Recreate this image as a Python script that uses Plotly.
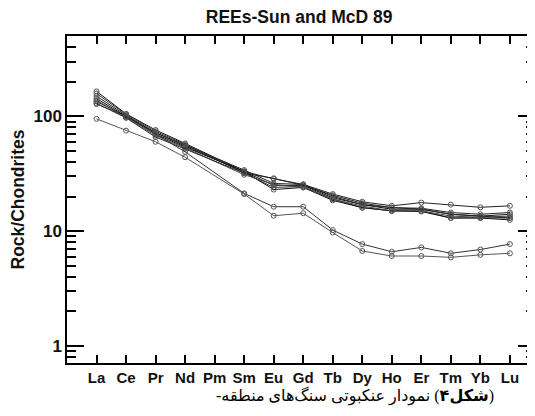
import plotly.graph_objects as go

elements = ["La", "Ce", "Pr", "Nd", "Pm", "Sm", "Eu", "Gd", "Tb", "Dy", "Ho", "Er", "Tm", "Yb", "Lu"]

# Chondrite-normalised values (Pm not analysed -> None)
s1 = [135, 100, 72, 55, None, 33, 28.5, 25.5, 21.0, 18.0, 16.6, 17.7, 17.0, 16.1, 16.6]
s2 = [165, 105, 76, 58, None, 33, 25.0, 25.0, 19.5, 17.0, 15.5, 15.5, 14.0, 13.5, 14.0]
s3 = [158, 104, 74, 57, None, 32, 24.0, 24.5, 19.0, 16.0, 15.0, 15.0, 13.0, 13.0, 13.0]
s4 = [150, 102, 72, 56, None, 34, 26.0, 25.5, 20.0, 17.0, 16.0, 15.8, 14.5, 14.0, 14.5]
s5 = [143, 100, 70, 54, None, 33, 23.0, 24.0, 18.5, 16.0, 15.0, 14.8, 13.0, 13.0, 12.5]
s6 = [138, 98, 68, 53, None, 31, 25.5, 24.0, 19.0, 16.5, 15.0, 15.0, 13.5, 13.2, 13.5]
s7 = [130, 97, 66, 52, None, 32, 28.8, 25.0, 20.5, 17.5, 16.0, 15.5, 14.0, 13.5, 13.0]
s8 = [128, 100, 70, 49, None, 21.3, 16.3, 16.3, 10.2, 7.7, 6.6, 7.2, 6.4, 6.9, 7.7]
s9 = [95, 75, 60, 44, None, 21.0, 13.6, 14.3, 9.7, 6.7, 6.06, 6.06, 5.9, 6.2, 6.4]

series = [s1, s2, s3, s4, s5, s6, s7, s8, s9]
line_colors = ["#222222", "#111111", "#333333", "#222222", "#111111", "#444444", "#222222", "#333333", "#555555"]

title_text = "REEs-Sun and McD 89"
y_title = "Rock/Chondrites"
caption = "\u200F(<b>شکل۴</b>) نمودار عنکبوتی سنگ‌های منطقه-\u200F"

fig = go.Figure()
for vals, col in zip(series, line_colors):
    fig.add_trace(go.Scatter(
        x=list(range(len(elements))), y=vals, mode="lines+markers",
        connectgaps=True,
        line=dict(color=col, width=1),
        marker=dict(symbol="circle-open", size=5, color="#555555", line=dict(width=1)),
        showlegend=False, hoverinfo="skip",
    ))

# page body has an 8px margin, so the figure is 527x408 to fill the 535x416 window
fig.update_layout(
    width=527, height=408,
    margin=dict(l=59, r=0, t=28, b=53, autoexpand=False),
    paper_bgcolor="white", plot_bgcolor="white",
    font=dict(family="Liberation Sans, Arial, sans-serif", color="black"),
    title=dict(text="<b>" + title_text + "</b>", x=0.496, xref="paper", xanchor="center",
               y=0.978, yanchor="middle", font=dict(size=17.5, color="#111111")),
    annotations=[dict(text=caption, x=0.615, xref="paper", y=-0.101, yref="paper", yanchor="middle",
                      showarrow=False,
                      font=dict(family="Liberation Serif, DejaVu Sans, serif", size=16, color="black"))],
)

fig.update_xaxes(
    range=[-1, 14.85], tickmode="array", tickvals=list(range(len(elements))),
    ticktext=["<b>" + e + "</b>" for e in elements],
    tickfont=dict(size=15, color="#111111"),
    ticks="inside", ticklen=8, tickwidth=1.5, tickcolor="black",
    showline=True, linecolor="black", linewidth=1.5, mirror="ticks",
    showgrid=False, zeroline=False, automargin=False,
)
fig.update_yaxes(
    type="log", range=[-0.15, 2.70],
    tickmode="array", tickvals=[1, 10, 100], ticktext=["<b>1</b>", "<b>10</b>", "<b>100</b>"],
    tickfont=dict(size=17, color="#111111"),
    ticks="inside", ticklen=17, tickwidth=1.5, tickcolor="black",
    minor=dict(ticks="inside", ticklen=9, tickwidth=1.5, tickcolor="black",
               tickvals=[0.8, 0.9, 2, 3, 4, 5, 6, 7, 8, 9, 20, 30, 40, 50, 60, 70, 80, 90, 200, 300, 400], showgrid=False),
    showline=True, linecolor="black", linewidth=1.5, mirror="ticks",
    showgrid=False, zeroline=False, automargin=False,
    title=dict(text="<b>" + y_title + "</b>", font=dict(size=17.5, color="#111111"), standoff=8),
)

fig.write_html("out.html")
